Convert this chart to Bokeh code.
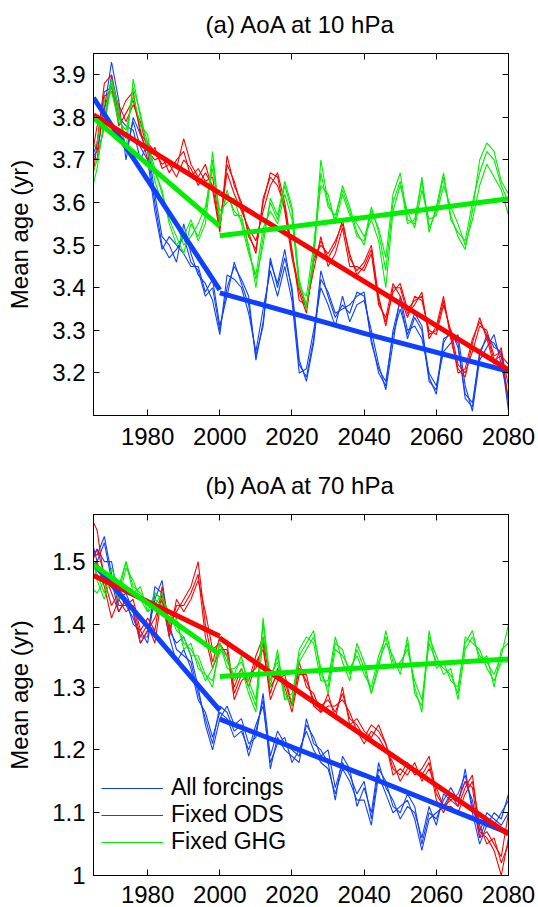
from bokeh.plotting import figure
from bokeh.models import (LinearAxis, FixedTicker, Range1d, Legend, LegendItem,
                          CustomJSTickFormatter)
from bokeh.layouts import column
from bokeh.embed import file_html
from bokeh.resources import INLINE

# ---------------- data ----------------
YEARS = list(range(1964, 2081, 2))
X_TICKS = [1980, 2000, 2020, 2040, 2060, 2080]
A_Y_TICKS = [3.2, 3.3, 3.4, 3.5, 3.6, 3.7, 3.8, 3.9]
B_Y_TICKS = [1.0, 1.1, 1.2, 1.3, 1.4, 1.5]

# panel (a) 10 hPa : three ensemble members per experiment
A_ALL_1 = [3.70, 3.72, 3.82, 3.93, 3.84, 3.70, 3.80, 3.76, 3.72, 3.60,
           3.50, 3.47, 3.49, 3.52, 3.46, 3.44, 3.38, 3.40, 3.30, 3.40,
           3.45, 3.42, 3.38, 3.23, 3.32, 3.46, 3.41, 3.49, 3.39, 3.22,
           3.19, 3.28, 3.44, 3.38, 3.33, 3.36, 3.34, 3.39, 3.38, 3.28,
           3.20, 3.17, 3.30, 3.37, 3.28, 3.33, 3.30, 3.18, 3.16, 3.28,
           3.29, 3.27, 3.14, 3.12, 3.25, 3.28, 3.27, 3.24, 3.11]
A_ALL_2 = [3.69, 3.74, 3.86, 3.87, 3.80, 3.78, 3.77, 3.70, 3.74, 3.62,
           3.52, 3.50, 3.46, 3.55, 3.48, 3.43, 3.41, 3.37, 3.29, 3.43,
           3.42, 3.40, 3.34, 3.25, 3.35, 3.44, 3.38, 3.45, 3.37, 3.20,
           3.21, 3.30, 3.40, 3.36, 3.31, 3.38, 3.32, 3.36, 3.37, 3.30,
           3.22, 3.16, 3.27, 3.38, 3.30, 3.31, 3.28, 3.20, 3.17, 3.25,
           3.27, 3.29, 3.17, 3.11, 3.23, 3.26, 3.29, 3.22, 3.14]
A_ALL_3 = [3.71, 3.70, 3.78, 3.90, 3.82, 3.72, 3.79, 3.73, 3.70, 3.58,
           3.49, 3.52, 3.50, 3.48, 3.45, 3.45, 3.39, 3.42, 3.31, 3.38,
           3.46, 3.41, 3.36, 3.24, 3.31, 3.47, 3.40, 3.47, 3.40, 3.23,
           3.18, 3.27, 3.42, 3.39, 3.34, 3.35, 3.36, 3.38, 3.39, 3.27,
           3.21, 3.18, 3.29, 3.35, 3.29, 3.34, 3.31, 3.19, 3.15, 3.27,
           3.30, 3.26, 3.15, 3.13, 3.24, 3.29, 3.26, 3.25, 3.13]

A_ODS_1 = [3.60, 3.74, 3.88, 3.90, 3.80, 3.84, 3.86, 3.76, 3.74, 3.72,
           3.69, 3.70, 3.68, 3.75, 3.69, 3.66, 3.69, 3.63, 3.53, 3.71,
           3.64, 3.60, 3.52, 3.49, 3.60, 3.67, 3.66, 3.58, 3.47, 3.39,
           3.34, 3.46, 3.51, 3.47, 3.50, 3.56, 3.47, 3.44, 3.46, 3.50,
           3.38, 3.31, 3.40, 3.40, 3.34, 3.36, 3.39, 3.28, 3.31, 3.38,
           3.28, 3.21, 3.19, 3.27, 3.33, 3.28, 3.22, 3.26, 3.13]
A_ODS_2 = [3.72, 3.70, 3.85, 3.86, 3.83, 3.79, 3.83, 3.79, 3.72, 3.70,
           3.71, 3.67, 3.70, 3.72, 3.66, 3.68, 3.65, 3.66, 3.55, 3.67,
           3.62, 3.58, 3.54, 3.51, 3.58, 3.64, 3.67, 3.60, 3.49, 3.37,
           3.36, 3.44, 3.52, 3.45, 3.48, 3.54, 3.45, 3.45, 3.44, 3.48,
           3.36, 3.33, 3.41, 3.38, 3.33, 3.38, 3.37, 3.30, 3.29, 3.36,
           3.30, 3.22, 3.20, 3.25, 3.31, 3.30, 3.24, 3.25, 3.17]
A_ODS_3 = [3.68, 3.78, 3.82, 3.88, 3.78, 3.81, 3.84, 3.77, 3.70, 3.73,
           3.68, 3.69, 3.66, 3.70, 3.68, 3.64, 3.67, 3.64, 3.54, 3.69,
           3.65, 3.59, 3.53, 3.48, 3.61, 3.66, 3.64, 3.59, 3.48, 3.40,
           3.35, 3.47, 3.50, 3.48, 3.51, 3.55, 3.48, 3.43, 3.45, 3.49,
           3.37, 3.32, 3.39, 3.41, 3.35, 3.37, 3.38, 3.29, 3.30, 3.37,
           3.29, 3.20, 3.21, 3.28, 3.32, 3.29, 3.23, 3.24, 3.22]

A_GHG_1 = [3.61, 3.68, 3.80, 3.89, 3.82, 3.72, 3.89, 3.80, 3.74, 3.68,
           3.62, 3.56, 3.52, 3.48, 3.55, 3.52, 3.57, 3.72, 3.56, 3.62,
           3.58, 3.56, 3.50, 3.40, 3.52, 3.60, 3.56, 3.64, 3.58, 3.42,
           3.35, 3.48, 3.70, 3.60, 3.56, 3.64, 3.59, 3.53, 3.50, 3.58,
           3.54, 3.47, 3.62, 3.67, 3.56, 3.55, 3.66, 3.54, 3.58, 3.66,
           3.57, 3.52, 3.49, 3.58, 3.70, 3.74, 3.72, 3.65, 3.62]
A_GHG_2 = [3.72, 3.74, 3.84, 3.86, 3.79, 3.77, 3.85, 3.78, 3.76, 3.65,
           3.60, 3.58, 3.55, 3.50, 3.52, 3.55, 3.59, 3.68, 3.58, 3.60,
           3.61, 3.55, 3.48, 3.43, 3.54, 3.58, 3.55, 3.62, 3.56, 3.40,
           3.38, 3.50, 3.64, 3.62, 3.55, 3.62, 3.57, 3.55, 3.52, 3.56,
           3.51, 3.40, 3.58, 3.64, 3.58, 3.54, 3.63, 3.56, 3.57, 3.64,
           3.59, 3.55, 3.50, 3.56, 3.64, 3.69, 3.66, 3.63, 3.57]
A_GHG_3 = [3.65, 3.70, 3.78, 3.88, 3.80, 3.75, 3.87, 3.81, 3.72, 3.67,
           3.63, 3.55, 3.50, 3.52, 3.56, 3.51, 3.55, 3.70, 3.55, 3.63,
           3.57, 3.57, 3.49, 3.42, 3.50, 3.61, 3.57, 3.65, 3.59, 3.41,
           3.36, 3.46, 3.67, 3.59, 3.57, 3.63, 3.58, 3.52, 3.51, 3.59,
           3.53, 3.44, 3.60, 3.65, 3.55, 3.56, 3.65, 3.53, 3.59, 3.67,
           3.56, 3.53, 3.51, 3.60, 3.67, 3.72, 3.70, 3.64, 3.60]

# panel (b) 70 hPa
B_ALL_1 = [1.50, 1.52, 1.50, 1.50, 1.44, 1.45, 1.42, 1.37, 1.39, 1.44,
           1.47, 1.39, 1.37, 1.38, 1.35, 1.30, 1.24, 1.20, 1.25, 1.27,
           1.24, 1.25, 1.21, 1.22, 1.29, 1.19, 1.23, 1.21, 1.20, 1.19,
           1.24, 1.22, 1.19, 1.20, 1.14, 1.18, 1.16, 1.13, 1.15, 1.09,
           1.17, 1.15, 1.11, 1.10, 1.13, 1.11, 1.05, 1.10, 1.09, 1.12,
           1.14, 1.12, 1.15, 1.12, 1.06, 1.09, 1.08, 1.10, 1.12]
B_ALL_2 = [1.545, 1.50, 1.53, 1.47, 1.42, 1.44, 1.40, 1.39, 1.37, 1.45,
           1.44, 1.38, 1.34, 1.36, 1.33, 1.28, 1.26, 1.22, 1.26, 1.25,
           1.22, 1.23, 1.20, 1.24, 1.27, 1.18, 1.21, 1.22, 1.18, 1.20,
           1.23, 1.20, 1.18, 1.17, 1.13, 1.17, 1.15, 1.12, 1.12, 1.08,
           1.16, 1.13, 1.10, 1.11, 1.12, 1.09, 1.04, 1.09, 1.10, 1.11,
           1.13, 1.11, 1.17, 1.10, 1.05, 1.08, 1.10, 1.09, 1.13]
B_ALL_3 = [1.52, 1.51, 1.54, 1.48, 1.43, 1.43, 1.41, 1.38, 1.38, 1.46,
           1.45, 1.40, 1.36, 1.35, 1.34, 1.29, 1.25, 1.21, 1.27, 1.26,
           1.23, 1.24, 1.19, 1.23, 1.28, 1.17, 1.22, 1.20, 1.19, 1.18,
           1.25, 1.21, 1.20, 1.18, 1.12, 1.19, 1.17, 1.11, 1.14, 1.10,
           1.18, 1.14, 1.12, 1.09, 1.11, 1.10, 1.06, 1.11, 1.08, 1.13,
           1.12, 1.13, 1.16, 1.11, 1.07, 1.10, 1.09, 1.08, 1.10]

B_ODS_1 = [1.575, 1.55, 1.47, 1.43, 1.45, 1.43, 1.44, 1.39, 1.41, 1.39,
           1.46, 1.40, 1.42, 1.44, 1.46, 1.50, 1.40, 1.34, 1.38, 1.37,
           1.29, 1.32, 1.31, 1.35, 1.38, 1.30, 1.32, 1.31, 1.27, 1.33,
           1.31, 1.28, 1.27, 1.28, 1.26, 1.29, 1.25, 1.24, 1.22, 1.24,
           1.23, 1.21, 1.17, 1.16, 1.18, 1.16, 1.17, 1.19, 1.13, 1.11,
           1.12, 1.11, 1.14, 1.16, 1.07, 1.06, 1.04, 1.00, 1.06]
B_ODS_2 = [1.49, 1.52, 1.48, 1.45, 1.42, 1.44, 1.42, 1.37, 1.39, 1.41,
           1.44, 1.38, 1.44, 1.42, 1.44, 1.47, 1.42, 1.36, 1.37, 1.35,
           1.30, 1.33, 1.30, 1.34, 1.36, 1.29, 1.33, 1.30, 1.26, 1.32,
           1.32, 1.27, 1.26, 1.27, 1.27, 1.28, 1.26, 1.23, 1.21, 1.23,
           1.22, 1.20, 1.18, 1.15, 1.17, 1.17, 1.16, 1.18, 1.12, 1.10,
           1.13, 1.12, 1.15, 1.14, 1.06, 1.07, 1.05, 1.03, 1.10]
B_ODS_3 = [1.48, 1.50, 1.46, 1.41, 1.44, 1.42, 1.43, 1.38, 1.40, 1.37,
           1.45, 1.39, 1.43, 1.43, 1.45, 1.48, 1.38, 1.33, 1.36, 1.36,
           1.28, 1.31, 1.32, 1.33, 1.37, 1.28, 1.31, 1.32, 1.27, 1.34,
           1.30, 1.29, 1.26, 1.29, 1.25, 1.30, 1.24, 1.25, 1.23, 1.22,
           1.24, 1.21, 1.16, 1.17, 1.16, 1.18, 1.15, 1.17, 1.14, 1.11,
           1.11, 1.10, 1.13, 1.15, 1.08, 1.05, 1.06, 1.02, 1.05]

B_GHG_1 = [1.53, 1.47, 1.44, 1.48, 1.45, 1.50, 1.46, 1.45, 1.43, 1.44,
           1.43, 1.41, 1.40, 1.37, 1.36, 1.34, 1.31, 1.33, 1.37, 1.34,
           1.32, 1.35, 1.30, 1.27, 1.41, 1.31, 1.35, 1.29, 1.27, 1.35,
           1.37, 1.39, 1.32, 1.30, 1.37, 1.36, 1.32, 1.36, 1.33, 1.29,
           1.33, 1.39, 1.34, 1.33, 1.37, 1.30, 1.26, 1.38, 1.35, 1.32,
           1.33, 1.28, 1.36, 1.38, 1.35, 1.34, 1.32, 1.35, 1.40]
B_GHG_2 = [1.46, 1.45, 1.47, 1.47, 1.44, 1.49, 1.47, 1.44, 1.42, 1.45,
           1.44, 1.42, 1.39, 1.38, 1.35, 1.35, 1.32, 1.31, 1.36, 1.35,
           1.31, 1.33, 1.29, 1.26, 1.38, 1.32, 1.34, 1.28, 1.29, 1.34,
           1.36, 1.38, 1.33, 1.29, 1.36, 1.35, 1.33, 1.35, 1.32, 1.30,
           1.35, 1.38, 1.33, 1.34, 1.36, 1.31, 1.28, 1.37, 1.34, 1.33,
           1.32, 1.29, 1.38, 1.37, 1.36, 1.33, 1.31, 1.34, 1.34]
B_GHG_3 = [1.51, 1.48, 1.45, 1.49, 1.46, 1.50, 1.45, 1.46, 1.42, 1.43,
           1.45, 1.40, 1.41, 1.36, 1.37, 1.33, 1.32, 1.30, 1.37, 1.33,
           1.33, 1.34, 1.31, 1.28, 1.40, 1.30, 1.36, 1.28, 1.28, 1.36,
           1.38, 1.37, 1.31, 1.31, 1.38, 1.34, 1.31, 1.37, 1.34, 1.29,
           1.34, 1.37, 1.35, 1.32, 1.38, 1.29, 1.27, 1.39, 1.33, 1.34,
           1.31, 1.30, 1.37, 1.39, 1.34, 1.35, 1.30, 1.36, 1.37]

# piecewise trend fits
FIT_EARLY_YEARS = [1965, 2000]
FIT_LATE_YEARS = [2000, 2040, 2080]
A_ALL_FIT_EARLY = [3.846, 3.395]
A_ALL_FIT_LATE = [3.388, 3.293, 3.204]
A_ODS_FIT_EARLY = [3.806, 3.622]
A_ODS_FIT_LATE = [3.622, 3.415, 3.207]
A_GHG_FIT_EARLY = [3.799, 3.544]
A_GHG_FIT_LATE = [3.522, 3.565, 3.609]
B_ALL_FIT_EARLY = [1.497, 1.263]
B_ALL_FIT_LATE = [1.249, 1.160, 1.068]
B_ODS_FIT_EARLY = [1.478, 1.381]
B_ODS_FIT_LATE = [1.378, 1.222, 1.066]
B_GHG_FIT_EARLY = [1.495, 1.352]
B_GHG_FIT_LATE = [1.317, 1.331, 1.345]

LABELS = ["All forcings", "Fixed ODS", "Fixed GHG"]

# ---------------- style ----------------
FONT = "Liberation Sans"
BLUE = "#1040ff"
RED = "#ff0000"
GREEN = "#00ee00"
COLORS = [BLUE, RED, GREEN]

X_FMT = "return tick.toFixed(0);"
A_FMT = "return tick.toFixed(1);"
B_FMT = "return (Math.abs(tick - 1) < 1e-9) ? '1' : tick.toFixed(1);"


def style_axis(ax, ticks, code, labels=True, standoff=8):
    ax.ticker = FixedTicker(ticks=ticks)
    ax.formatter = CustomJSTickFormatter(code=code)
    ax.major_tick_in = 6
    ax.major_tick_out = 0
    ax.minor_tick_line_color = None
    ax.axis_line_color = "black"
    ax.major_tick_line_color = "black"
    if labels:
        ax.major_label_text_font = FONT
        ax.major_label_text_font_size = "24px"
        ax.major_label_text_color = "black"
        ax.major_label_standoff = standoff
    else:
        ax.major_label_text_color = None
        ax.major_label_text_font_size = "0px"
        ax.major_label_standoff = 0


def make_panel(title, y0, y1, yticks, ycode, runs, fits, height, top, bottom,
               xstandoff, legend=False):
    p = figure(width=538, height=height,
               x_range=Range1d(1965, 2080), y_range=Range1d(y0, y1),
               output_backend="svg", toolbar_location=None,
               min_border_left=93, min_border_right=30,
               min_border_top=top, min_border_bottom=bottom)
    p.xgrid.visible = False
    p.ygrid.visible = False
    p.outline_line_color = "black"
    p.outline_line_alpha = 1.0
    p.background_fill_color = "white"
    p.border_fill_color = "white"

    style_axis(p.xaxis[0], X_TICKS, X_FMT, standoff=xstandoff)
    style_axis(p.yaxis[0], yticks, ycode, standoff=8)
    yax = p.yaxis[0]
    yax.axis_label = "Mean age (yr)"
    yax.axis_label_text_font = FONT
    yax.axis_label_text_font_size = "24px"
    yax.axis_label_text_font_style = "normal"
    yax.axis_label_text_color = "black"
    yax.axis_label_standoff = 16

    # top axis: inward ticks only, carries the panel title as its label
    top_ax = LinearAxis()
    style_axis(top_ax, X_TICKS, X_FMT, labels=False)
    top_ax.axis_label = title
    top_ax.axis_label_text_font = FONT
    top_ax.axis_label_text_font_size = "24px"
    top_ax.axis_label_text_font_style = "normal"
    top_ax.axis_label_text_color = "black"
    top_ax.axis_label_standoff = 16
    p.add_layout(top_ax, "above")
    right_ax = LinearAxis()
    style_axis(right_ax, yticks, ycode, labels=False)
    p.add_layout(right_ax, "right")

    legend_renderers = []
    for members, color in zip(runs, COLORS):
        group = []
        for m in members:
            group.append(p.line(YEARS, m, line_color=color, line_width=1.1))
        legend_renderers.append(group[1])
    for (early, late), color in zip(fits, COLORS):
        p.line(FIT_EARLY_YEARS, early, line_color=color, line_width=5)
        p.line(FIT_LATE_YEARS, late, line_color=color, line_width=5)

    if legend:
        items = [LegendItem(label=lab, renderers=[r])
                 for lab, r in zip(LABELS, legend_renderers)]
        lg = Legend(items=items, location=(8, 20))
        lg.label_text_font = FONT
        lg.label_text_font_size = "23px"
        lg.label_text_color = "black"
        lg.border_line_color = None
        lg.background_fill_alpha = 0
        lg.glyph_width = 62
        lg.glyph_height = 26
        lg.label_height = 26
        lg.label_standoff = 8
        lg.padding = 0
        lg.margin = 0
        lg.spacing = 0
        p.add_layout(lg)
    return p


p1 = make_panel("(a) AoA at 10 hPa", 3.10, 3.95, A_Y_TICKS, A_FMT,
                [[A_ALL_1, A_ALL_2, A_ALL_3], [A_ODS_1, A_ODS_2, A_ODS_3],
                 [A_GHG_1, A_GHG_2, A_GHG_3]],
                [(A_ALL_FIT_EARLY, A_ALL_FIT_LATE), (A_ODS_FIT_EARLY, A_ODS_FIT_LATE),
                 (A_GHG_FIT_EARLY, A_GHG_FIT_LATE)],
                height=450, top=53, bottom=35, xstandoff=12)
p2 = make_panel("(b) AoA at 70 hPa", 1.0, 1.575, B_Y_TICKS, B_FMT,
                [[B_ALL_1, B_ALL_2, B_ALL_3], [B_ODS_1, B_ODS_2, B_ODS_3],
                 [B_GHG_1, B_GHG_2, B_GHG_3]],
                [(B_ALL_FIT_EARLY, B_ALL_FIT_LATE), (B_ODS_FIT_EARLY, B_ODS_FIT_LATE),
                 (B_GHG_FIT_EARLY, B_GHG_FIT_LATE)],
                height=457, top=64, bottom=32, xstandoff=10, legend=True)

layout = column(p1, p2)
open("out.html", "w").write(file_html(layout, INLINE))
